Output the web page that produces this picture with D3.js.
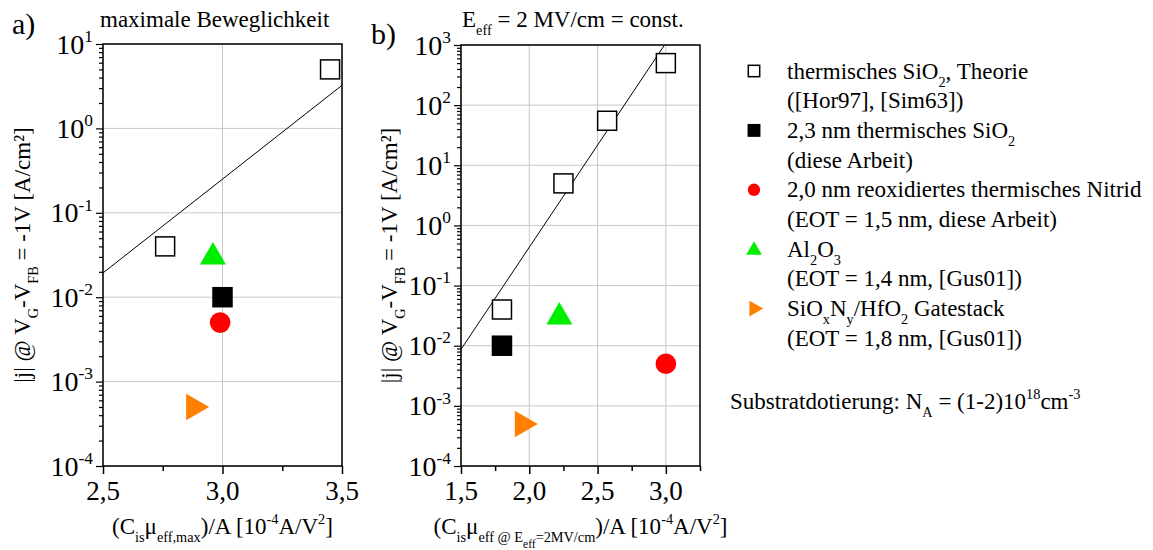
<!DOCTYPE html>
<html><head><meta charset="utf-8">
<script src="https://cdn.jsdelivr.net/npm/d3@7"></script>
<style>body{margin:0;background:#fff;}</style></head>
<body><svg id="c" width="1153" height="550"></svg>
<script>
// ---------- data ----------
const seriesNames = ["theory","sio2","nitrid","al2o3","hfo2"];
// panel a (maximale Beweglichkeit)
const aTheoryX = [2.76, 3.45], aTheoryY = [0.04, 5];
const aSio2X = [3.0],   aSio2Y = [0.01];
const aNitridX = [2.99], aNitridY = [0.005];
const aAl2o3X = [2.96], aAl2o3Y = [0.03];
const aHfo2X = [2.88],  aHfo2Y = [0.0005];
const aFitX = [2.5, 3.5], aFitY = [0.0194, 3.24];
// panel b (E_eff = 2 MV/cm)
const bTheoryX = [1.8, 2.25, 2.57, 3.0], bTheoryY = [0.04, 5, 55, 500];
const bSio2X = [1.8],   bSio2Y = [0.01];
const bNitridX = [3.0], bNitridY = [0.005];
const bAl2o3X = [2.22], bAl2o3Y = [0.03];
const bHfo2X = [1.95],  bHfo2Y = [0.0005];
const bFitX = [1.5, 2.99], bFitY = [0.0087, 1000];
// axes
const aXDomain = [2.5, 3.5], aXMajor = [2.5, 3.0, 3.5], aXMinor = [2.75, 3.25];
const aYDomain = [1e-4, 10], aYDecades = [-4,-3,-2,-1,0,1];
const bXDomain = [1.5, 3.25], bXMajor = [1.5, 2.0, 2.5, 3.0], bXMinor = [1.75, 2.25, 2.75, 3.25];
const bYDomain = [1e-4, 1000], bYDecades = [-4,-3,-2,-1,0,1,2,3];
// legend
const legendRows = [
  [["thermisches SiO",0],["2",-1],[", Theorie",0]],
  [["([Hor97], [Sim63])",0]],
  [["2,3 nm thermisches SiO",0],["2",-1]],
  [["(diese Arbeit)",0]],
  [["2,0 nm reoxidiertes thermisches Nitrid",0]],
  [["(EOT = 1,5 nm, diese Arbeit)",0]],
  [["Al",0],["2",-1],["O",0],["3",-1]],
  [["(EOT = 1,4 nm, [Gus01])",0]],
  [["SiO",0],["x",-1],["N",0],["y",-1],["/HfO",0],["2",-1],[" Gatestack",0]],
  [["(EOT = 1,8 nm, [Gus01])",0]]
];
const legendMarkerRows = [0, 2, 4, 6, 8];

// ---------- drawing ----------
const FONT = '"Liberation Serif"';
const svg = d3.select("#c");
const colors = {theory:"#fff", sio2:"#000", nitrid:"#ff0000", al2o3:"#00ee00", hfo2:"#ff8000"};

function txt(parent, x, y, size){
  return parent.append("text").attr("x",x).attr("y",y).attr("font-size",size)
    .style("font-family",FONT).attr("fill","#000");
}
function rich(sel, segs, size){
  const shift = {0:0, 1:-0.42, "-1":0.35, "-2":0.6};
  const fs = {0:1, 1:0.62, "-1":0.62, "-2":0.5};
  let cur = 0;
  segs.forEach(([t,l])=>{
    const target = shift[l]*size;
    sel.append("tspan").attr("dy", (target-cur).toFixed(2)).attr("font-size", (fs[l]*size).toFixed(1))
      .style("font-family",FONT).text(t);
    cur = target;
  });
  return sel;
}

function marker(g, type, cx, cy, s){
  if(type==="theory"||type==="sio2"){
    const w = 19*s;
    g.append("rect").attr("x",cx-w/2).attr("y",cy-w/2).attr("width",w).attr("height",w)
      .attr("fill", type==="theory"?"#fff":"#000").attr("stroke","#000").attr("stroke-width",1.5);
  } else if(type==="nitrid"){
    g.append("circle").attr("cx",cx).attr("cy",cy).attr("r",10.3*s).attr("fill",colors.nitrid);
  } else if(type==="al2o3"){
    const w=26*s, h=22.5*s;
    g.append("path").attr("d",`M${cx},${cy-2*h/3}L${cx+w/2},${cy+h/3}L${cx-w/2},${cy+h/3}Z`).attr("fill",colors.al2o3);
  } else if(type==="hfo2"){
    const w=23*s, h=26.5*s;
    g.append("path").attr("d",`M${cx+2*w/3},${cy}L${cx-w/3},${cy-h/2}L${cx-w/3},${cy+h/2}Z`).attr("fill",colors.hfo2);
  }
}

function panel(cfg){
  const g = svg.append("g");
  const x = d3.scaleLinear().domain(cfg.xd).range([cfg.l, cfg.r]);
  const y = d3.scaleLog().domain(cfg.yd).range([cfg.b, cfg.t]);
  g.append("g").selectAll("line").data(cfg.xMajor).join("line")
    .attr("x1",d=>x(d)).attr("x2",d=>x(d)).attr("y1",cfg.t).attr("y2",cfg.b)
    .attr("stroke","#c8c8c8").attr("stroke-width",1);
  g.append("g").selectAll("line").data(cfg.yDec).join("line")
    .attr("x1",cfg.l).attr("x2",cfg.r).attr("y1",d=>y(Math.pow(10,d))).attr("y2",d=>y(Math.pow(10,d)))
    .attr("stroke","#c8c8c8").attr("stroke-width",1);
  const minorY = [];
  cfg.yDec.slice(0,-1).forEach(d=>{for(let k=2;k<10;k++) minorY.push(k*Math.pow(10,d));});
  const ax = g.append("g").attr("transform",`translate(${cfg.l},0)`);
  ax.call(d3.axisLeft(y).tickValues(cfg.yDec.map(d=>Math.pow(10,d))).tickSize(7).tickFormat(""));
  ax.append("g").call(d3.axisLeft(y).tickValues(minorY).tickSize(4).tickFormat(""));
  ax.selectAll(".domain").remove();
  ax.selectAll("line").attr("stroke","#000").attr("stroke-width",1.2);
  const bx = g.append("g").attr("transform",`translate(0,${cfg.b})`);
  bx.call(d3.axisBottom(x).tickValues(cfg.xMajor).tickSize(8).tickFormat(""));
  bx.append("g").call(d3.axisBottom(x).tickValues(cfg.xMinor).tickSize(5).tickFormat(""));
  bx.selectAll(".domain").remove();
  bx.selectAll("line").attr("stroke","#000").attr("stroke-width",1.5);
  cfg.yDec.forEach(d=>{
    const t = txt(g, cfg.l-10, y(Math.pow(10,d))+9.5, 28).attr("text-anchor","end");
    rich(t, [["10",0],[String(d),1]], 28);
  });
  cfg.xMajor.forEach(d=>{
    txt(g, x(d), cfg.b+34, 27).attr("text-anchor","middle").text(d3.format(".1f")(d).replace(".",","));
  });
  g.append("rect").attr("x",cfg.l).attr("y",cfg.t).attr("width",cfg.r-cfg.l).attr("height",cfg.b-cfg.t)
    .attr("fill","none").attr("stroke","#000").attr("stroke-width",1.5);
  const line = d3.line().x(d=>x(d[0])).y(d=>y(d[1]));
  g.append("path").attr("d", line(cfg.fitX.map((v,i)=>[v,cfg.fitY[i]])))
    .attr("fill","none").attr("stroke","#000").attr("stroke-width",1);
  cfg.series.forEach(([name,xs,ys])=>{
    xs.forEach((v,i)=>marker(g,name,x(v),y(ys[i]),1));
  });
  const yt = txt(g, 0, 0, 23).attr("transform",`translate(${cfg.ytx},${(cfg.t+cfg.b)/2}) rotate(-90)`)
    .attr("text-anchor","middle");
  rich(yt, [["|j| @ V",0],["G",-1],["-V",0],["FB",-1],[" = -1V [A/cm²]",0]], 23);
  const xt = txt(g, (cfg.l+cfg.r)/2, cfg.b+68, 23).attr("text-anchor","middle");
  rich(xt, cfg.xTitle, 23);
  return g;
}

panel({l:103, r:342, t:44, b:466, xd:aXDomain, yd:aYDomain, xMajor:aXMajor, xMinor:aXMinor, yDec:aYDecades,
  fitX:aFitX, fitY:aFitY, ytx:30,
  series:[["theory",aTheoryX,aTheoryY],["sio2",aSio2X,aSio2Y],["nitrid",aNitridX,aNitridY],["al2o3",aAl2o3X,aAl2o3Y],["hfo2",aHfo2X,aHfo2Y]],
  xTitle:[["(C",0],["is",-1],["μ",0],["eff,max",-1],[")/A [10",0],["-4",1],["A/V",0],["2",1],["]",0]]});

panel({l:461, r:700, t:45, b:466, xd:bXDomain, yd:bYDomain, xMajor:bXMajor, xMinor:bXMinor, yDec:bYDecades,
  fitX:bFitX, fitY:bFitY, ytx:397,
  series:[["theory",bTheoryX,bTheoryY],["sio2",bSio2X,bSio2Y],["nitrid",bNitridX,bNitridY],["al2o3",bAl2o3X,bAl2o3Y],["hfo2",bHfo2X,bHfo2Y]],
  xTitle:[["(C",0],["is",-1],["μ",0],["eff @ E",-1],["eff",-2],["=2MV/cm",-1],[")/A [10",0],["-4",1],["A/V",0],["2",1],["]",0]]});

txt(svg, 12, 34, 30).text("a)");
txt(svg, 371, 44, 30).text("b)");
txt(svg, 100, 27, 23).text("maximale Beweglichkeit");
rich(txt(svg, 462, 27, 23), [["E",0],["eff",-1],[" = 2 MV/cm = const.",0]], 23);

const lg = svg.append("g");
const rowY = i => 71 + i*29.7;
legendRows.forEach((segs,i)=>{
  rich(txt(lg, 787, rowY(i)+7.5, 23), segs, 23);
});
seriesNames.forEach((n,k)=>marker(lg, n, 754, rowY(legendMarkerRows[k]) + (n==="al2o3"?1:0), 0.6));
rich(txt(svg, 730, 409, 23),
  [["Substratdotierung: N",0],["A",-1],[" = (1-2)10",0],["18",1],["cm",0],["-3",1]], 23);
</script></body></html>
